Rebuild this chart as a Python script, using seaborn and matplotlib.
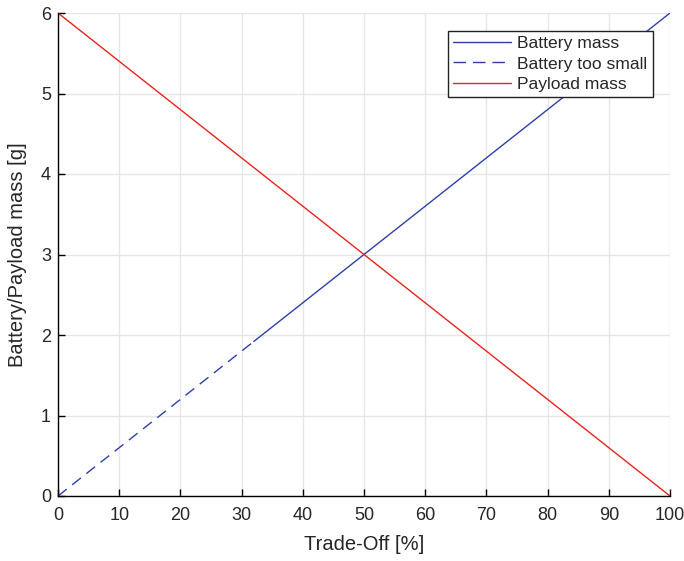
import matplotlib
matplotlib.use("Agg")
import matplotlib.pyplot as plt
import seaborn as sns
import pandas as pd

sns.set_theme(style="whitegrid")
plt.rcParams['font.family'] = ['Liberation Sans', 'DejaVu Sans']

small_x = [0, 32]
small_y = [0, 1.92]
batt_x = [32, 100]
batt_y = [1.92, 6]
pay_x = [0, 100]
pay_y = [6, 0]
xticks = [0, 10, 20, 30, 40, 50, 60, 70, 80, 90, 100]
yticks = [0, 1, 2, 3, 4, 5, 6]

fig = plt.figure(figsize=(6.84, 5.61), dpi=100)
ax = fig.add_axes([58/684, 1-496/561, (670-58)/684, (496-13)/561])

blue = '#2f3fa8'
red = '#e8231f'
sns.lineplot(x=batt_x, y=batt_y, ax=ax, color=blue, lw=1.0, label='Battery mass')
sns.lineplot(x=small_x, y=small_y, ax=ax, color=blue, lw=1.0, label='Battery too small')
ax.lines[-1].set_dashes([8, 5])
sns.lineplot(x=pay_x, y=pay_y, ax=ax, color=red, lw=1.0, label='Payload mass')

ax.set_xlim(0, 100)
ax.set_ylim(0, 6)
ax.set_xticks(xticks)
ax.set_yticks(yticks)
ax.grid(True, color='#e6e6e6', lw=1.0)
for s in ['top', 'right']:
    ax.spines[s].set_visible(False)
for s in ['left', 'bottom']:
    ax.spines[s].set_color('black')
    ax.spines[s].set_linewidth(1.0)
ax.tick_params(axis='both', direction='in', length=5, width=1, colors='black', labelsize=13,
               bottom=True, left=True)
ax.tick_params(axis='x', pad=8, labelcolor='#262626')
ax.tick_params(axis='y', pad=5, labelcolor='#262626')
ax.set_xlabel('Trade-Off [%]', fontsize=14.5, color='#262626', labelpad=8)
ax.set_ylabel('Battery/Payload mass [g]', fontsize=14.5, color='#262626', labelpad=10)

leg = ax.legend(loc='upper right', fontsize=12.6, frameon=True, fancybox=False,
                edgecolor='#222222', framealpha=1, handlelength=3.3, borderpad=0.3, labelspacing=0.3,
                handletextpad=0.35, borderaxespad=1.0)
leg.get_frame().set_linewidth(1.0)
for t in leg.get_texts():
    t.set_color('#262626')
leg.get_lines()[1].set_dashes([9, 5])

fig.savefig('out.png', dpi=100)
